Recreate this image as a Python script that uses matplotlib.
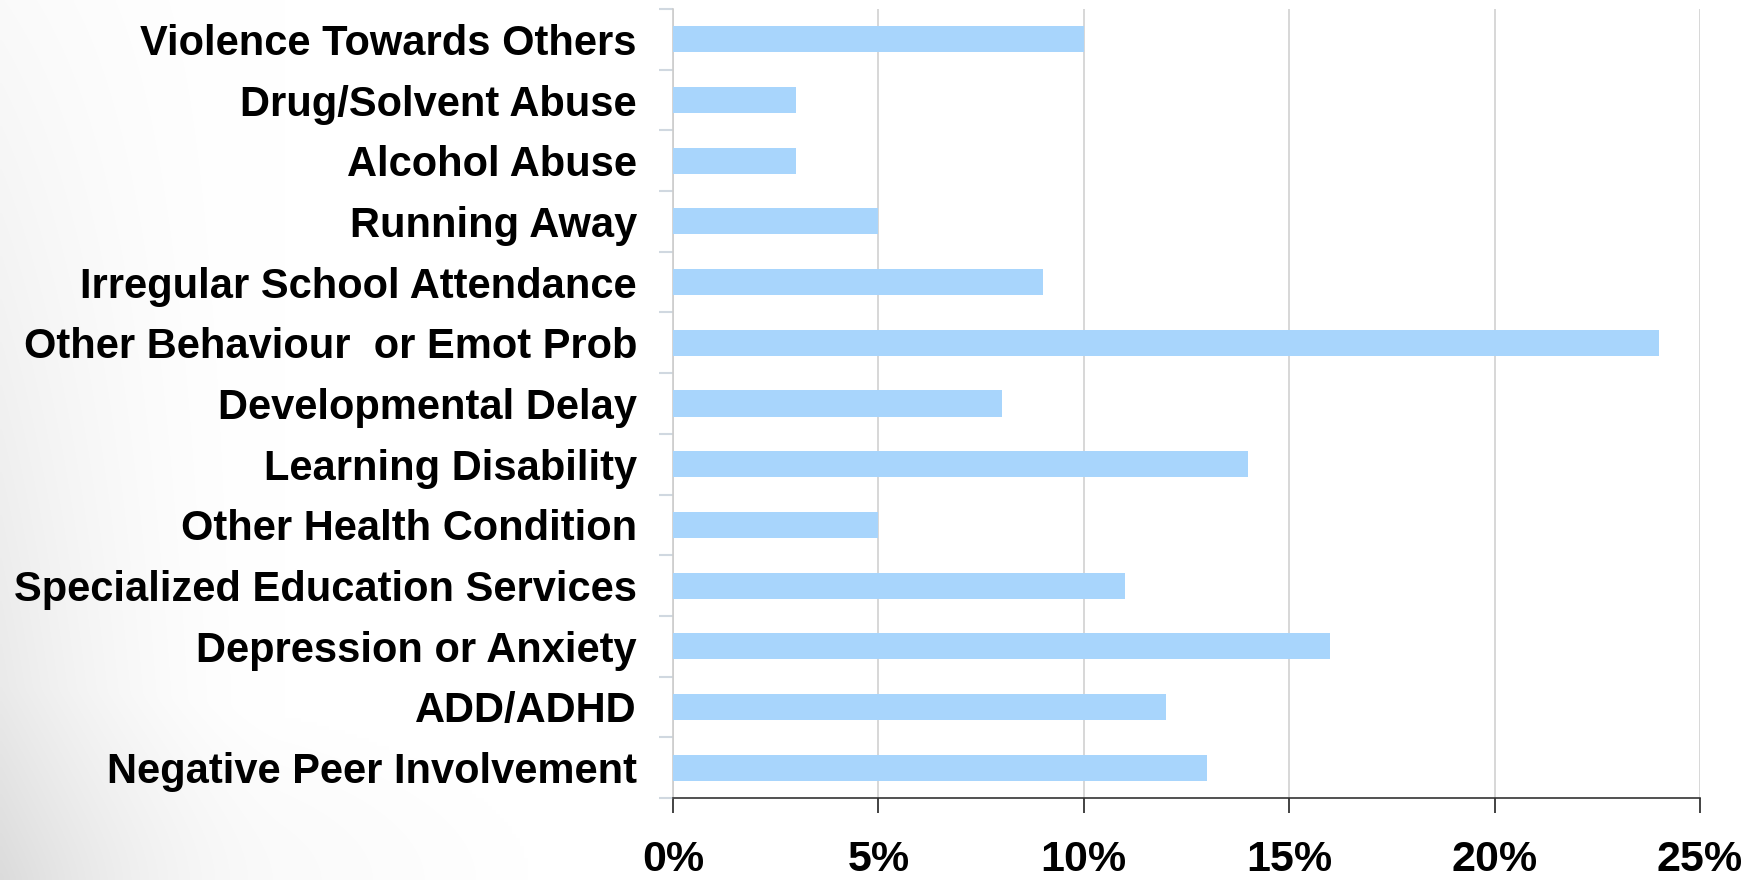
import numpy as np
import matplotlib
matplotlib.use("Agg")
import matplotlib.pyplot as plt
from matplotlib.ticker import FixedLocator, PercentFormatter

categories = [
    "Violence Towards Others",
    "Drug/Solvent Abuse",
    "Alcohol Abuse",
    "Running Away",
    "Irregular School Attendance",
    "Other Behaviour  or Emot Prob",
    "Developmental Delay",
    "Learning Disability",
    "Other Health Condition",
    "Specialized Education Services",
    "Depression or Anxiety",
    "ADD/ADHD",
    "Negative Peer Involvement",
]
values = [10, 3, 3, 5, 9, 24, 8, 14, 5, 11, 16, 12, 13]
x_ticks = [0, 5, 10, 15, 20, 25]

plt.rcParams['font.family'] = ['Liberation Sans', 'DejaVu Sans']

fig = plt.figure(figsize=(17.54, 8.8), dpi=100)

# subtle background gradient (gray swoosh at lower left)
bg = fig.add_axes([0, 0, 1, 1], zorder=-10)
h, w = 220, 440
yy, xx = np.mgrid[0:h, 0:w]
xn = xx / w
yn = yy / h  # 0 top, 1 bottom
shade = np.clip(1 - xn / 0.16, 0, 1) ** 1.8 * (0.2 + 0.8 * yn) * 0.10
shade += np.clip(1 - np.hypot(xn / 0.3, (1 - yn) / 0.22), 0, 1) * 0.04
img = 1 - shade
bg.imshow(np.dstack([img, img, img]), aspect='auto', extent=[0, 1, 0, 1],
          interpolation='bilinear')
bg.set_xlim(0, 1)
bg.set_ylim(0, 1)
bg.axis('off')

ax = fig.add_axes([0.3837, 0.0932, 0.9692 - 0.3837, 0.9898 - 0.0932])
ax.set_facecolor('white')

n = len(categories)
ypos = np.arange(n)
ax.barh(ypos, values, height=0.43, color='#a8d5fc', zorder=3)

ax.set_xlim(0, 25)
ax.set_ylim(n - 0.5, -0.5)

ax.xaxis.set_major_locator(FixedLocator(x_ticks))
ax.xaxis.set_major_formatter(PercentFormatter(decimals=0))
ax.grid(axis='x', color='#d4d4d4', linewidth=1.3, zorder=0)
ax.tick_params(axis='x', direction='out', length=11, width=1.2, color='#222222',
               pad=19, labelsize=31)
for lbl in ax.get_xticklabels():
    lbl.set_fontweight('bold')

ax.set_yticks(ypos)
ax.set_yticklabels(categories, fontsize=30, fontweight='bold')
ax.tick_params(axis='y', which='major', length=0, pad=26)
ax.set_yticks(np.arange(n + 1) - 0.5, minor=True)
ax.tick_params(axis='y', which='minor', length=10, width=1.5, color='#d0d8e0')

for s in ['top', 'right']:
    ax.spines[s].set_visible(False)
ax.spines['left'].set_color('#cccccc')
ax.spines['left'].set_linewidth(1.2)
ax.spines['bottom'].set_color('#333333')
ax.spines['bottom'].set_linewidth(1.2)

fig.savefig('out.png', dpi=100)
